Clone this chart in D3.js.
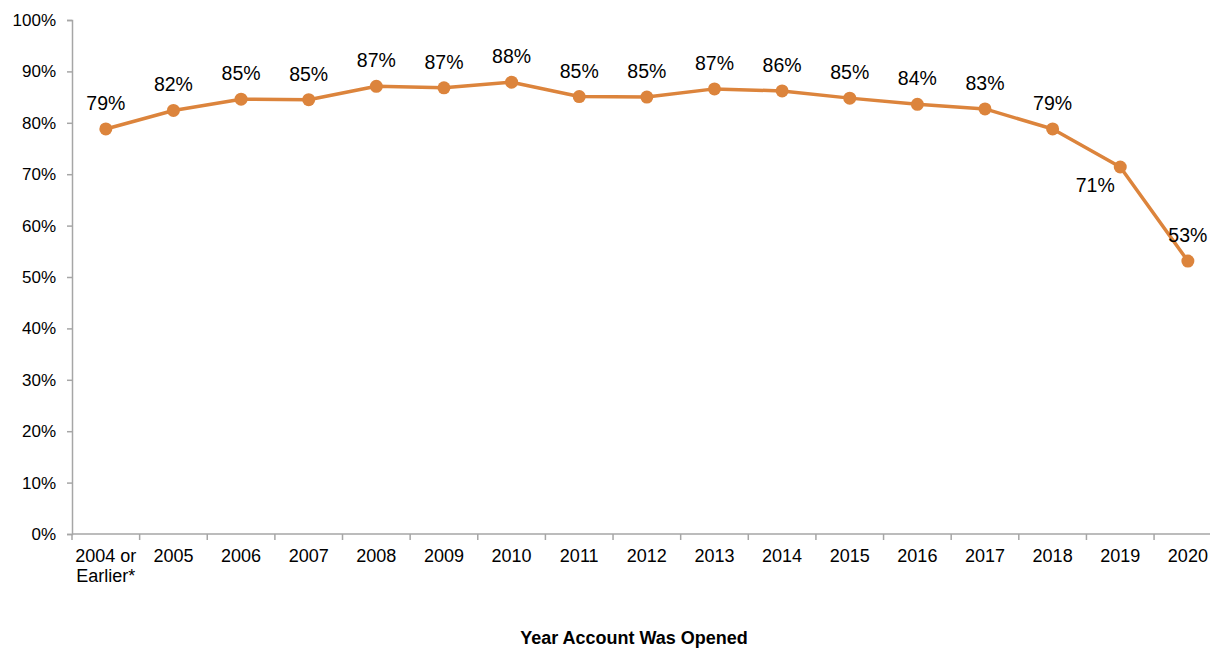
<!DOCTYPE html>
<html>
<head>
<meta charset="utf-8">
<script src="https://cdn.jsdelivr.net/npm/d3@7"></script>
<style>
  html, body { margin: 0; padding: 0; background: #fff; }
  svg { display: block; font-family: "Liberation Sans", Arial, sans-serif; }
</style>
</head>
<body>
<svg id="chart" width="1210" height="649"></svg>
<script>
const categories = ["2004 or\nEarlier*", "2005", "2006", "2007", "2008", "2009", "2010", "2011", "2012", "2013", "2014", "2015", "2016", "2017", "2018", "2019", "2020"];
const values = [0.788, 0.824, 0.846, 0.845, 0.871, 0.868, 0.879, 0.851, 0.850, 0.866, 0.862, 0.848, 0.836, 0.827, 0.788, 0.714, 0.531];
const yTicks = [0, 0.1, 0.2, 0.3, 0.4, 0.5, 0.6, 0.7, 0.8, 0.9, 1.0];
const xTitle = "Year Account Was Opened";

const svg = d3.select("#chart");
const axisColor = "#a6a6a6";
const lineColor = "#dc843c";

const x = d3.scaleBand().domain(categories).range([72, 1221.7]).paddingInner(0).paddingOuter(0);
const y = d3.scaleLinear().domain([0, 1]).range([534, 20]);

// Y axis
const yAxis = d3.axisLeft(y).tickValues(yTicks).tickFormat(d3.format(".0%")).tickSize(5).tickPadding(11);
const gy = svg.append("g").attr("transform", "translate(72,0)").call(yAxis);
gy.select(".domain").attr("stroke", axisColor).attr("stroke-width", 1.5);
gy.selectAll(".tick line").attr("stroke", axisColor).attr("stroke-width", 1.5);
gy.selectAll(".tick text").attr("fill", "#000").style("font-size", "17px").attr("font-family", "Liberation Sans, Arial, sans-serif");

// X axis
const gx = svg.append("g");
gx.append("line").attr("x1", 72).attr("x2", 1210).attr("y1", y(0)).attr("y2", y(0))
  .attr("stroke", axisColor).attr("stroke-width", 1.5);
gx.selectAll("line.tk").data(categories).join("line").attr("class", "tk")
  .attr("x1", d => x(d)).attr("x2", d => x(d)).attr("y1", y(0)).attr("y2", y(0) + 6)
  .attr("stroke", axisColor).attr("stroke-width", 1.5);
const xl = gx.selectAll("text.xl").data(categories).join("text").attr("class", "xl")
  .attr("x", d => x(d) + x.bandwidth() / 2).attr("y", y(0) + 28)
  .attr("text-anchor", "middle").style("font-size", "18px").attr("fill", "#000");
xl.each(function(d) {
  const lines = d.split("\n");
  const t = d3.select(this);
  lines.forEach((ln, i) => {
    t.append("tspan").attr("x", x(d) + x.bandwidth() / 2).attr("dy", i === 0 ? 0 : 20).text(ln);
  });
});

// X title
svg.append("text").attr("x", 634).attr("y", 644).attr("text-anchor", "middle")
  .style("font-size", "18px").style("font-weight", "bold").attr("fill", "#000").text(xTitle);

// Line
const cx = (d, i) => x(categories[i]) + x.bandwidth() / 2;
const line = d3.line().x((d, i) => cx(d, i)).y(d => y(d));
svg.append("path").datum(values).attr("d", line).attr("fill", "none")
  .attr("stroke", lineColor).attr("stroke-width", 3.5).attr("stroke-linejoin", "round");

svg.selectAll("circle.pt").data(values).join("circle").attr("class", "pt")
  .attr("cx", (d, i) => cx(d, i)).attr("cy", d => y(d)).attr("r", 6.5).attr("fill", lineColor);

// Data labels
const belowLeft = new Set(["2019"]);
svg.selectAll("text.dl").data(values).join("text").attr("class", "dl")
  .attr("x", (d, i) => belowLeft.has(categories[i]) ? cx(d, i) - 25 : cx(d, i))
  .attr("y", (d, i) => belowLeft.has(categories[i]) ? y(d) + 25 : y(d) - 19)
  .attr("text-anchor", "middle").style("font-size", "19.5px").attr("fill", "#000")
  .text(d => Math.round(d * 100) + "%");
</script>
</body>
</html>
